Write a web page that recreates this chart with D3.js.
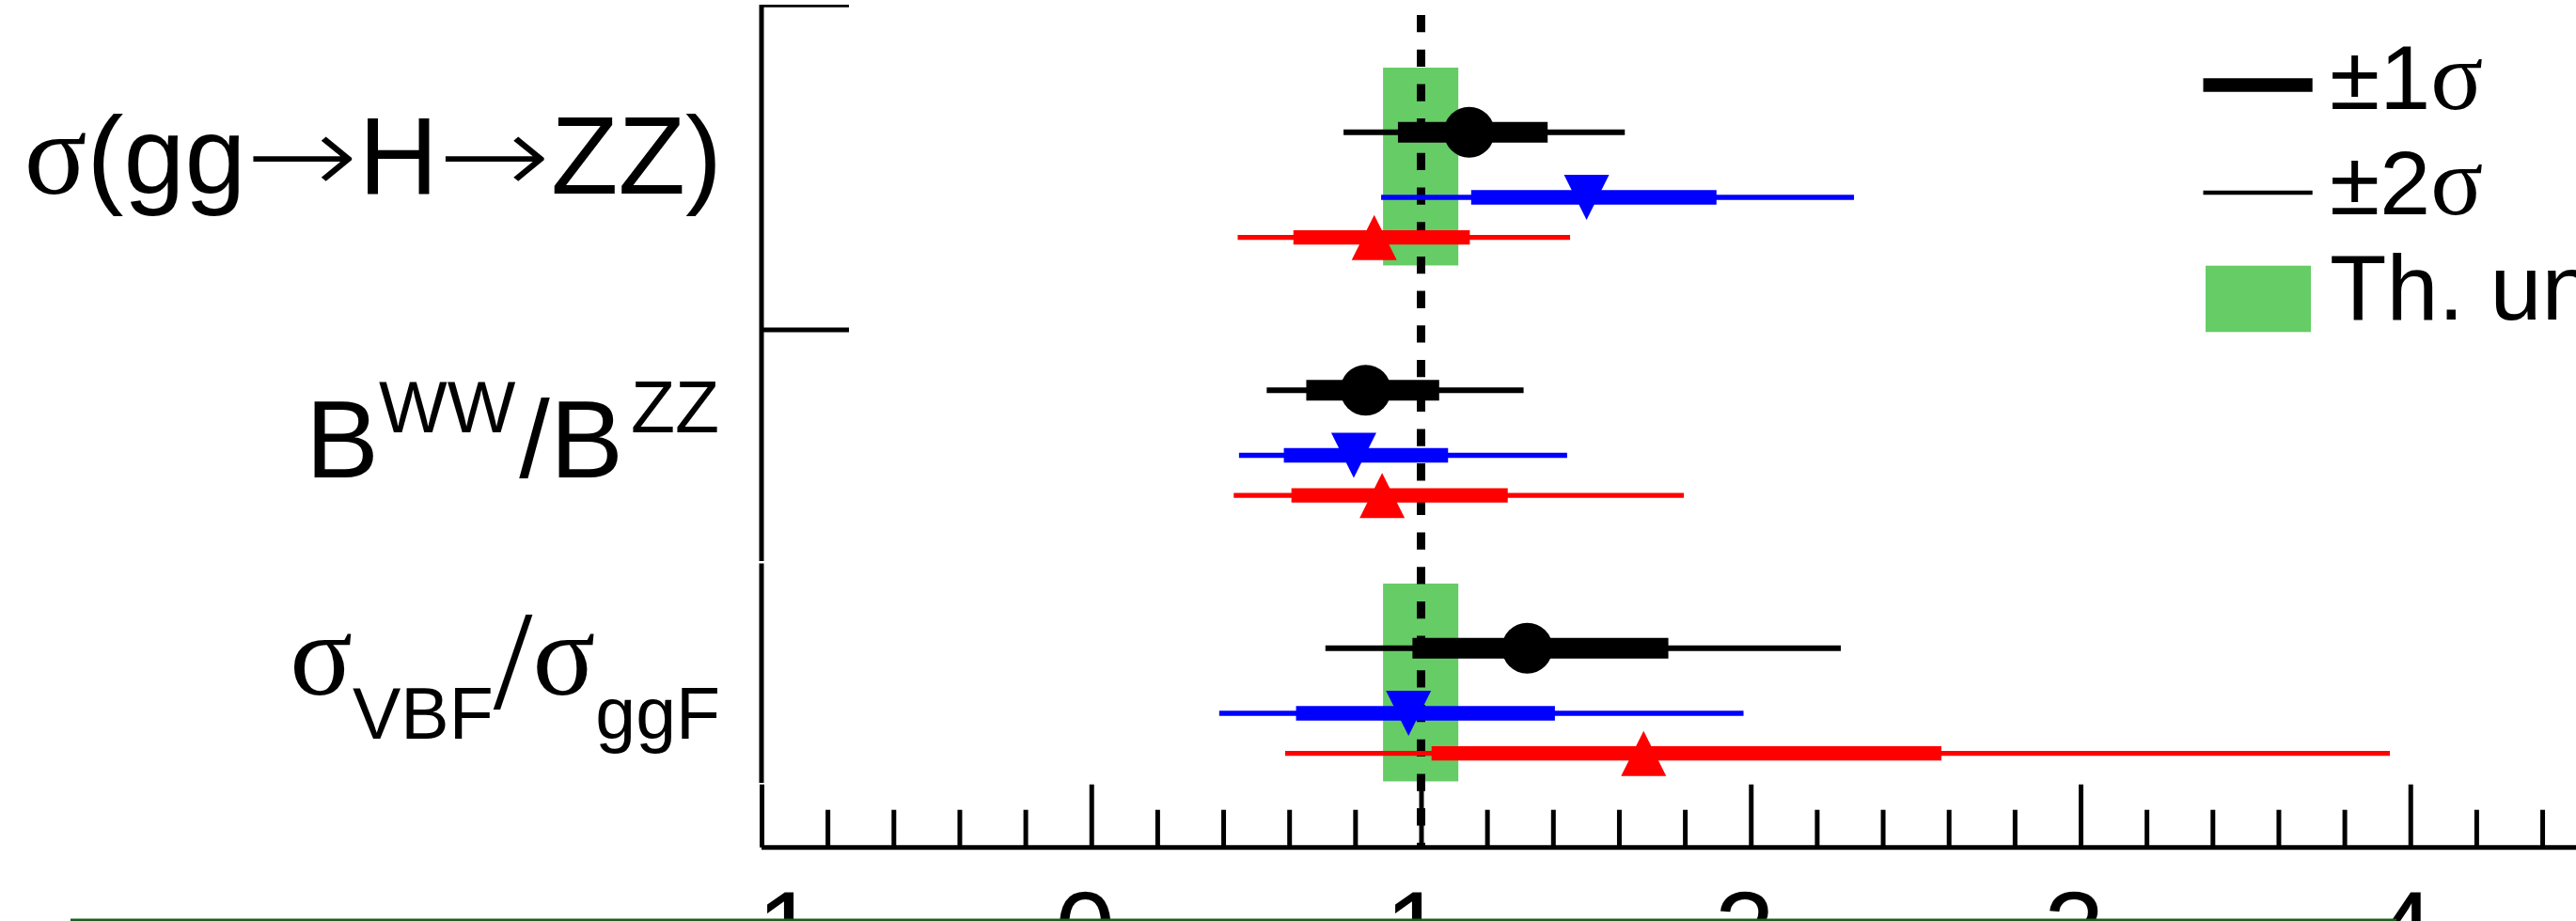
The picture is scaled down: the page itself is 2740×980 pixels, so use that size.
<!DOCTYPE html>
<html><head><meta charset="utf-8">
<script src="https://cdn.jsdelivr.net/npm/d3@7/dist/d3.min.js"></script>
<style>html,body{margin:0;padding:0;background:#fff;overflow:hidden}</style>
</head><body>
<svg id="chart" width="2740" height="980" xmlns="http://www.w3.org/2000/svg"></svg>
<script>
// ---------------- data ----------------
const categories = ["σ(gg→H→ZZ)", "BWW/BZZ", "σVBF/σggF"];
const labelParts = [
  [{t:"σ", kind:"greek"}, {t:"(gg"}, {t:"→", kind:"arrow"}, {t:"H"}, {t:"→", kind:"arrow"}, {t:"ZZ)"}],
  [{t:"B"}, {t:"WW", kind:"sup"}, {t:"/", gap:4}, {t:"B"}, {t:"ZZ", kind:"sup", gap:8}],
  [{t:"σ", kind:"greek"}, {t:"VBF", kind:"sub"}, {t:"/", kind:"big"}, {t:"σ", kind:"greek"}, {t:"ggF", kind:"sub"}]
];
const seriesNames = ["black", "blue", "red"];

const centralBlack = [1.146, 0.832, 1.322];
const lo1Black     = [0.930, 0.652, 0.974];
const hi1Black     = [1.384, 1.055, 1.750];
const lo2Black     = [0.765, 0.532, 0.710];
const hi2Black     = [1.618, 1.311, 2.273];

const centralBlue  = [1.502, 0.796, 0.962];
const lo1Blue      = [1.152, 0.584, 0.621];
const hi1Blue      = [1.896, 1.082, 1.406];
const lo2Blue      = [0.879, 0.448, 0.388];
const hi2Blue      = [2.313, 1.443, 1.978];

const centralRed   = [0.858, 0.882, 1.675];
const lo1Red       = [0.613, 0.607, 1.032];
const hi1Red       = [1.148, 1.263, 2.578];
const lo2Red       = [0.444, 0.432, 0.588];
const hi2Red       = [1.452, 1.797, 3.938];

const thLo = [0.887, 1.000, 0.887];
const thHi = [1.111, 1.000, 1.111];

const majorTicks = [-1, 0, 1, 2, 3, 4, 5];
const legendLabels = ["±1σ", "±2σ", "Th. unc."];

// ---------------- styles / layout ----------------
const sansFont = "'Liberation Sans', Arial, Helvetica, sans-serif";
const serifFont = "'Liberation Serif', 'Times New Roman', serif";
const arrowFont = "'DejaVu Sans', sans-serif";
const colors = {black:"#000000", blue:"#0000ff", red:"#ff0000"};
const thick1 = {black:22, blue:15.3, red:15.3};
const thick2 = {black:6, blue:5.3, red:5.3};
const rowOffset = {black:0, blue:69.3, red:112};
const markerType = {black:"circle", blue:"down", red:"up"};
const bandColor = "#66cc66";
const pieceStyle = {
  normal: {font: sansFont,  size: 117, dy: 0},
  greek:  {font: serifFont, size: 124, dy: 0},
  sup:    {font: sansFont,  size: 77,  dy: -48},
  sub:    {font: sansFont,  size: 77,  dy: 46.6},
  big:    {font: serifFont, size: 150, dy: 14.6},
  arrow:  {font: arrowFont, size: 117, dy: 0, advance: 120, weight: 200}
};
const labelBase = [206, 507.5, 739.4];
const labelRight = [768, 765, 766];

const svg = d3.select("#chart");

const x = d3.scaleLinear().domain([-1, 5]).range([810, 810 + 6 * 350.75]);
const yGroup = d3.scaleLinear().domain([0, categories.length - 1]).range([140.7, 689.7]);
const axisY = 901.7;

const series = [
  {name:"black", c:centralBlack, lo1:lo1Black, hi1:hi1Black, lo2:lo2Black, hi2:hi2Black},
  {name:"blue",  c:centralBlue,  lo1:lo1Blue,  hi1:hi1Blue,  lo2:lo2Blue,  hi2:hi2Blue},
  {name:"red",   c:centralRed,   lo1:lo1Red,   hi1:hi1Red,   lo2:lo2Red,   hi2:hi2Red}
];

// ---------------- theory bands ----------------
svg.append("g").selectAll("rect").data(categories).join("rect")
  .attr("x", (d,i) => x(thLo[i]))
  .attr("width", (d,i) => x(thHi[i]) - x(thLo[i]))
  .attr("y", (d,i) => yGroup(i) - 68)
  .attr("height", 209)
  .attr("fill", bandColor)
  .attr("stroke", bandColor)
  .attr("stroke-width", 1.5);

// ---------------- SM line ----------------
svg.append("line")
  .attr("x1", x(1)).attr("x2", x(1))
  .attr("y1", 16).attr("y2", 900)
  .attr("stroke", "#000").attr("stroke-width", 9)
  .attr("stroke-dasharray", "18.3,18.4");

// ---------------- frame (pads) ----------------
const frame = svg.append("g").attr("stroke", "#000").attr("fill", "none");
frame.append("line").attr("x1", 810).attr("x2", 810).attr("y1", 5).attr("y2", 597).attr("stroke-width", 5);
frame.append("line").attr("x1", 810).attr("x2", 810).attr("y1", 599.5).attr("y2", 833).attr("stroke-width", 5);
frame.append("line").attr("x1", 810).attr("x2", 903).attr("y1", 6.3).attr("y2", 6.3).attr("stroke-width", 2.8);
frame.append("line").attr("x1", 810).attr("x2", 903).attr("y1", 351).attr("y2", 351).attr("stroke-width", 5);

// ---------------- x axis ----------------
const minorTicks = d3.range(-1, 5.001, 0.2).map(v => +v.toFixed(2)).filter(v => Math.abs(v - Math.round(v)) > 1e-6);
const gMinor = svg.append("g").attr("transform", `translate(0,${axisY})`)
  .call(d3.axisBottom(x).tickValues(minorTicks).tickSizeInner(-40).tickSizeOuter(0).tickFormat(""));
gMinor.select(".domain").remove();
gMinor.selectAll(".tick line").attr("stroke-width", 5);

const gAxis = svg.append("g").attr("transform", `translate(0,${axisY})`)
  .call(d3.axisBottom(x).tickValues(majorTicks).tickSizeInner(-67).tickSizeOuter(0).tickPadding(46)
        .tickFormat(d3.format("d")));
gAxis.select(".domain").attr("stroke-width", 5).attr("d", `M${x(-1)},0H${x(5)}`);
gAxis.selectAll(".tick text")
  .attr("font-family", sansFont).attr("font-size", 115).attr("fill", "#000").attr("dx", -7);
gAxis.selectAll(".tick line").attr("stroke-width", 5);

// ---------------- y labels (rich text, laid out piece by piece) ----------------
categories.forEach((cat, i) => {
  const g = svg.append("g").attr("class", "ylabel").attr("aria-label", cat);
  let xpos = 0;
  const placed = [];
  labelParts[i].forEach(p => {
    const st = pieceStyle[p.kind || "normal"];
    xpos += p.gap || 0;
    const t = g.append("text")
      .attr("x", 0).attr("y", labelBase[i] + st.dy)
      .attr("font-family", st.font).attr("font-size", st.size).attr("fill", "#000")
      .text(p.t);
    if (st.weight) t.attr("font-weight", st.weight);
    let adv = t.node().getComputedTextLength();
    let sx = 1;
    if (st.advance) { sx = st.advance / adv; adv = st.advance; }
    placed.push({t, x: xpos, sx});
    xpos += adv;
  });
  const off = labelRight[i] - xpos;
  placed.forEach(n => n.t.attr("transform", `translate(${off + n.x},0) scale(${n.sx},1)`));
});

// ---------------- markers ----------------
const triUp = { draw(ctx, size) { const h = Math.sqrt(size) / 2; ctx.moveTo(0, -h); ctx.lineTo(h, h); ctx.lineTo(-h, h); ctx.closePath(); } };
const triDown = { draw(ctx, size) { const h = Math.sqrt(size) / 2; ctx.moveTo(0, h); ctx.lineTo(h, -h); ctx.lineTo(-h, -h); ctx.closePath(); } };

series.forEach(s => {
  const g = svg.append("g");
  const col = colors[s.name];
  const yy = i => yGroup(i) + rowOffset[s.name];
  g.selectAll("line.s2").data(categories).join("line").attr("class", "s2")
    .attr("x1", (d,i) => x(s.lo2[i])).attr("x2", (d,i) => x(s.hi2[i]))
    .attr("y1", (d,i) => yy(i)).attr("y2", (d,i) => yy(i))
    .attr("stroke", col).attr("stroke-width", thick2[s.name]);
  g.selectAll("line.s1").data(categories).join("line").attr("class", "s1")
    .attr("x1", (d,i) => x(s.lo1[i])).attr("x2", (d,i) => x(s.hi1[i]))
    .attr("y1", (d,i) => yy(i)).attr("y2", (d,i) => yy(i))
    .attr("stroke", col).attr("stroke-width", thick1[s.name]);
  let sym;
  if (markerType[s.name] === "circle") sym = d3.symbol().type(d3.symbolCircle).size(Math.PI * 27 * 27);
  else sym = d3.symbol().type(markerType[s.name] === "up" ? triUp : triDown).size(48 * 48);
  g.selectAll("path.m").data(categories).join("path").attr("class", "m")
    .attr("d", sym)
    .attr("transform", (d,i) => `translate(${x(s.c[i])},${yy(i)})`)
    .attr("fill", col);
});

// ---------------- legend ----------------
const leg = svg.append("g");
leg.append("line").attr("x1", 2343.5).attr("x2", 2459.7).attr("y1", 90.5).attr("y2", 90.5)
  .attr("stroke", "#000").attr("stroke-width", 14.4);
leg.append("line").attr("x1", 2343.5).attr("x2", 2459.7).attr("y1", 205).attr("y2", 205)
  .attr("stroke", "#000").attr("stroke-width", 4.5);
leg.append("rect").attr("x", 2346).attr("y", 282.7).attr("width", 112).attr("height", 70.6).attr("fill", bandColor);
const legBase = [116, 227.7, 340];
legendLabels.forEach((lab, i) => {
  const t = leg.append("text").attr("x", 2478).attr("y", legBase[i])
    .attr("font-family", sansFont).attr("font-size", 97).attr("fill", "#000");
  if (lab.endsWith("σ")) {
    t.append("tspan").text(lab.slice(0, -1));
    t.append("tspan").text("σ").attr("font-family", serifFont).attr("font-size", 104);
  } else {
    t.text(lab).attr("font-size", 99);
  }
});

// ---------------- bottom rule ----------------
svg.append("rect").attr("x", 75).attr("y", 977.5).attr("width", 2474).attr("height", 2.5).attr("fill", "#1b5e20");
</script>
</body></html>
